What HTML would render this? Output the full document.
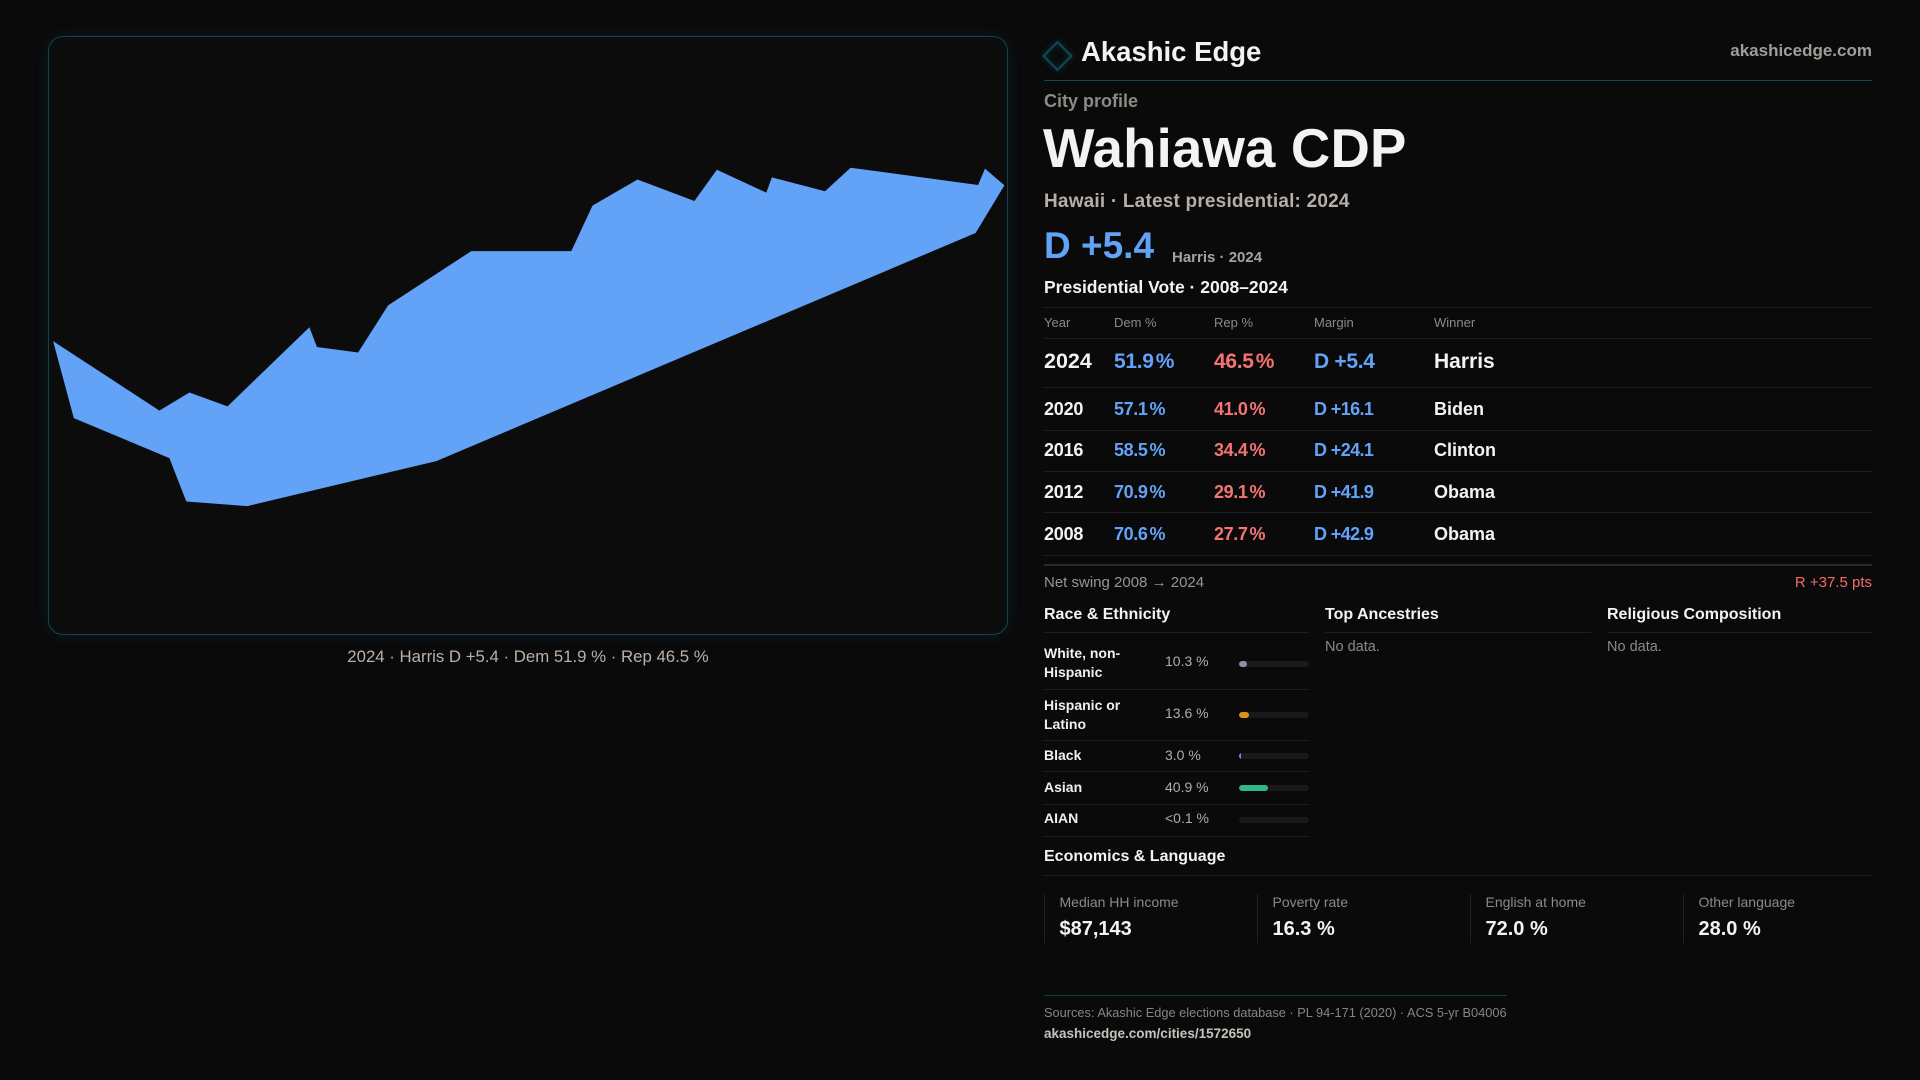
<!DOCTYPE html>
<html><head><meta charset="utf-8"><style>
*{margin:0;padding:0;box-sizing:border-box}
html,body{width:1920px;height:1080px;background:#0a0a0b;overflow:hidden}
body{position:relative;font-family:"Liberation Sans",sans-serif}
.t{position:absolute;white-space:nowrap;line-height:1}
.b{font-weight:700}
.w{color:#f3f3f3}
.g{color:#8e8984}
.dm{color:#62a3f8}
.rp{color:#f47474}
.hl{position:absolute;height:1px;background:#1e1e21}
.panel{position:absolute;left:48px;top:36px;width:960px;height:599px;border:1px solid #0f4650;border-radius:15px;background:#0c0c0d;box-shadow:0 0 14px rgba(16,80,90,0.25)}
.bar{position:absolute;left:1239px;width:70px;height:6px;border-radius:3px;background:#19191c;overflow:hidden}
.bar i{position:absolute;left:0;top:0;height:6px;border-radius:3px}
.lab{position:absolute;left:1044px;font-size:14px;line-height:19px;font-weight:700;color:#f0f0f0;white-space:nowrap}
.pct{position:absolute;left:1165px;font-size:14px;line-height:19px;color:#b3aca5;white-space:nowrap}
.card{position:absolute;top:894px;height:49px;border-left:1px solid #222225}
.p{margin-left:2px}
</style></head><body>

<div class="panel"></div>
<svg width="1920" height="1080" style="position:absolute;left:0;top:0">
<defs><filter id="gl" x="-50%" y="-50%" width="200%" height="200%"><feGaussianBlur stdDeviation="3"/></filter></defs>
<polygon fill="#62a2f7" points="53.1,341.1 159.4,410.6 189.4,392.5 227.5,406.4 309.4,327.2 316.9,347.0 358.1,352.5 388.1,305.4 471.3,251.1 571.3,251.1 592.5,205.6 637.5,179.5 694.4,201.0 716.9,169.8 766.3,192.6 771.9,177.4 825.0,191.3 850.6,167.7 978.1,185.0 985.0,168.6 1004.4,185.4 975.6,233.0 436.3,461.1 247.5,506.1 186.3,501.5 169.4,458.1 73.8,418.1"/>
<polygon points="1057.5,42 1071.5,56 1057.5,70 1043.5,56" fill="none" stroke="#0f5560" stroke-width="3" opacity="0.5" filter="url(#gl)"/>
<polygon points="1057.5,42 1071.5,56 1057.5,70 1043.5,56" fill="none" stroke="#0f4a54" stroke-width="2"/>
</svg>

<div class="t" style="left:0;width:1056px;text-align:center;top:648.5px;font-size:16.8px;color:#b9b1a9">2024 · Harris D +5.4 · Dem 51.9 % · Rep 46.5 %</div>

<!-- header -->
<div class="t b w" style="left:1081px;top:37.6px;font-size:27.5px">Akashic Edge</div>
<div class="t b" style="right:48px;top:42px;font-size:17px;color:#a39d97">akashicedge.com</div>
<div class="hl" style="left:1044px;width:828px;top:80px;background:#0f4650"></div>

<div class="t b g" style="left:1044px;top:92px;font-size:18px">City profile</div>
<div class="t b w" style="left:1043px;top:121.6px;font-size:54.5px;letter-spacing:0.2px">Wahiawa CDP</div>
<div class="t b" style="left:1044px;top:192px;font-size:19px;color:#b6aea7;letter-spacing:0.2px">Hawaii · Latest presidential: 2024</div>
<div class="t b dm" style="left:1044px;top:227px;font-size:37px">D +5.4</div>
<div class="t b" style="left:1172px;top:250px;font-size:15px;color:#a8a29c">Harris · 2024</div>
<div class="t b w" style="left:1044px;top:279px;font-size:17.5px">Presidential Vote · 2008–2024</div>

<!-- table -->
<div class="hl" style="left:1044px;width:828px;top:307px"></div>
<div class="t g" style="left:1044px;top:316px;font-size:13px">Year</div>
<div class="t g" style="left:1114px;top:316px;font-size:13px">Dem %</div>
<div class="t g" style="left:1214px;top:316px;font-size:13px">Rep %</div>
<div class="t g" style="left:1314px;top:316px;font-size:13px">Margin</div>
<div class="t g" style="left:1434px;top:316px;font-size:13px">Winner</div>
<div class="hl" style="left:1044px;width:828px;top:338px"></div>

<div class="t b w" style="left:1044px;top:351px;font-size:21.5px">2024</div>
<div class="t b dm" style="left:1114px;top:351px;font-size:21px;letter-spacing:-0.3px">51.9<span class="p">%</span></div>
<div class="t b rp" style="left:1214px;top:351px;font-size:21px;letter-spacing:-0.3px">46.5<span class="p">%</span></div>
<div class="t b dm" style="left:1314px;top:351px;font-size:21px;letter-spacing:-0.3px">D +5.4</div>
<div class="t b w" style="left:1434px;top:351px;font-size:21px">Harris</div>
<div class="hl" style="left:1044px;width:828px;top:387px"></div>

<div class="t b w" style="left:1044px;top:400px;font-size:18px;letter-spacing:-0.2px">2020</div>
<div class="t b dm" style="left:1114px;top:400px;font-size:18px;letter-spacing:-0.4px">57.1<span class="p">%</span></div>
<div class="t b rp" style="left:1214px;top:400px;font-size:18px;letter-spacing:-0.4px">41.0<span class="p">%</span></div>
<div class="t b dm" style="left:1314px;top:400px;font-size:18px;letter-spacing:-0.6px">D +16.1</div>
<div class="t b w" style="left:1434px;top:400px;font-size:18px">Biden</div>
<div class="hl" style="left:1044px;width:828px;top:430px"></div>

<div class="t b w" style="left:1044px;top:441px;font-size:18px;letter-spacing:-0.2px">2016</div>
<div class="t b dm" style="left:1114px;top:441px;font-size:18px;letter-spacing:-0.4px">58.5<span class="p">%</span></div>
<div class="t b rp" style="left:1214px;top:441px;font-size:18px;letter-spacing:-0.4px">34.4<span class="p">%</span></div>
<div class="t b dm" style="left:1314px;top:441px;font-size:18px;letter-spacing:-0.6px">D +24.1</div>
<div class="t b w" style="left:1434px;top:441px;font-size:18px">Clinton</div>
<div class="hl" style="left:1044px;width:828px;top:471px"></div>

<div class="t b w" style="left:1044px;top:482.5px;font-size:18px;letter-spacing:-0.2px">2012</div>
<div class="t b dm" style="left:1114px;top:482.5px;font-size:18px;letter-spacing:-0.4px">70.9<span class="p">%</span></div>
<div class="t b rp" style="left:1214px;top:482.5px;font-size:18px;letter-spacing:-0.4px">29.1<span class="p">%</span></div>
<div class="t b dm" style="left:1314px;top:482.5px;font-size:18px;letter-spacing:-0.6px">D +41.9</div>
<div class="t b w" style="left:1434px;top:482.5px;font-size:18px">Obama</div>
<div class="hl" style="left:1044px;width:828px;top:512px"></div>

<div class="t b w" style="left:1044px;top:525px;font-size:18px;letter-spacing:-0.2px">2008</div>
<div class="t b dm" style="left:1114px;top:525px;font-size:18px;letter-spacing:-0.4px">70.6<span class="p">%</span></div>
<div class="t b rp" style="left:1214px;top:525px;font-size:18px;letter-spacing:-0.4px">27.7<span class="p">%</span></div>
<div class="t b dm" style="left:1314px;top:525px;font-size:18px;letter-spacing:-0.6px">D +42.9</div>
<div class="t b w" style="left:1434px;top:525px;font-size:18px">Obama</div>
<div class="hl" style="left:1044px;width:828px;top:555px"></div>
<div class="hl" style="left:1044px;width:828px;top:564px;background:#2a2a2d;height:1.5px"></div>

<div class="t" style="left:1044px;top:574.6px;font-size:15px;color:#9a948e">Net swing 2008 → 2024</div>
<div class="t" style="right:48px;top:574.6px;font-size:15px;color:#f26a6a">R +37.5 pts</div>

<!-- sections -->
<div class="t b w" style="left:1044px;top:606.5px;font-size:16px">Race &amp; Ethnicity</div>
<div class="t b w" style="left:1325px;top:606.5px;font-size:16px">Top Ancestries</div>
<div class="t b w" style="left:1607px;top:606.5px;font-size:16px">Religious Composition</div>
<div class="hl" style="left:1044px;width:265px;top:632px"></div>
<div class="hl" style="left:1325px;width:266px;top:632px"></div>
<div class="hl" style="left:1607px;width:265px;top:632px"></div>
<div class="t g" style="left:1325px;top:640.4px;font-size:14.5px">No data.</div>
<div class="t g" style="left:1607px;top:640.4px;font-size:14.5px">No data.</div>

<div class="lab" style="top:643.6px">White, non-<br>Hispanic</div>
<div class="pct" style="top:652.4px">10.3 %</div>
<div class="bar" style="top:661px"><i style="width:7.5px;background:#8b94a3"></i></div>
<div class="hl" style="left:1044px;width:265px;top:689px"></div>

<div class="lab" style="top:695.6px">Hispanic or<br>Latino</div>
<div class="pct" style="top:703.6px">13.6 %</div>
<div class="bar" style="top:712px"><i style="width:9.6px;background:#de930e"></i></div>
<div class="hl" style="left:1044px;width:265px;top:740px"></div>

<div class="lab" style="top:745.6px">Black</div>
<div class="pct" style="top:745.6px">3.0 %</div>
<div class="bar" style="top:753px"><i style="width:2px;background:#8b7cf0;border-radius:0"></i></div>
<div class="hl" style="left:1044px;width:265px;top:771px"></div>

<div class="lab" style="top:777.6px">Asian</div>
<div class="pct" style="top:777.6px">40.9 %</div>
<div class="bar" style="top:785px"><i style="width:28.6px;background:#30b987"></i></div>
<div class="hl" style="left:1044px;width:265px;top:804px"></div>

<div class="lab" style="top:809px">AIAN</div>
<div class="pct" style="top:809px">&lt;0.1 %</div>
<div class="bar" style="top:816.5px"></div>
<div class="hl" style="left:1044px;width:265px;top:835.5px"></div>

<!-- economics -->
<div class="t b w" style="left:1044px;top:849.2px;font-size:16px">Economics &amp; Language</div>
<div class="hl" style="left:1044px;width:828px;top:875px"></div>

<div class="card" style="left:1044px"></div>
<div class="card" style="left:1257px"></div>
<div class="card" style="left:1470px"></div>
<div class="card" style="left:1683px"></div>
<div class="t g" style="left:1059.5px;top:894.8px;font-size:14px">Median HH income</div>
<div class="t g" style="left:1272.5px;top:894.8px;font-size:14px">Poverty rate</div>
<div class="t g" style="left:1485.5px;top:894.8px;font-size:14px">English at home</div>
<div class="t g" style="left:1698.5px;top:894.8px;font-size:14px">Other language</div>
<div class="t b w" style="left:1059.5px;top:919px;font-size:20px">$87,143</div>
<div class="t b w" style="left:1272.5px;top:919px;font-size:20px">16.3 %</div>
<div class="t b w" style="left:1485.5px;top:919px;font-size:20px">72.0 %</div>
<div class="t b w" style="left:1698.5px;top:919px;font-size:20px">28.0 %</div>

<div class="hl" style="left:1044px;width:463px;top:995px;background:#0f3d46"></div>
<div class="t" style="left:1044px;top:1006.5px;font-size:12.8px;color:#8a847e">Sources: Akashic Edge elections database · PL 94-171 (2020) · ACS 5-yr B04006</div>
<div class="t b" style="left:1044px;top:1026.9px;font-size:13.5px;color:#c8c2bc">akashicedge.com/cities/1572650</div>

</body></html>
